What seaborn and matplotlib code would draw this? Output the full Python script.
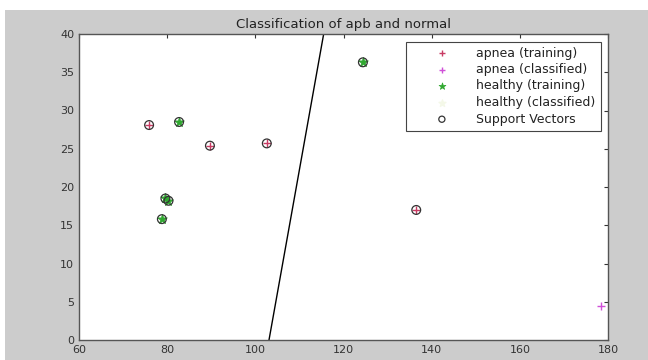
import matplotlib
matplotlib.use("Agg")
import matplotlib.pyplot as plt
import seaborn as sns
import pandas as pd

# values
apnea_train_x = [75.9, 89.7, 102.6, 136.5]
apnea_train_y = [28.1, 25.4, 25.7, 17.0]
healthy_train_x = [82.7, 79.6, 80.3, 78.8, 124.4]
healthy_train_y = [28.5, 18.5, 18.2, 15.8, 36.3]
apnea_class_x = [178.4]
apnea_class_y = [4.4]
boundary_x = [103.1, 115.5]
boundary_y = [0, 40]

sns.set_style("white")
plt.rcParams['font.family'] = ['DejaVu Sans']

fig = plt.figure(figsize=(6.48, 3.6), dpi=100, facecolor='white')
fig.patches.append(plt.Rectangle((5 / 648, 0), 1, 350 / 360, transform=fig.transFigure,
                                 facecolor='#cccccc', edgecolor='none', zorder=-10))
ax = fig.add_axes([79 / 648, 20 / 360, 529 / 648, 306 / 360])
ax.set_facecolor('white')

apnea = pd.DataFrame({'x': apnea_train_x, 'y': apnea_train_y})
healthy = pd.DataFrame({'x': healthy_train_x, 'y': healthy_train_y})
classified = pd.DataFrame({'x': apnea_class_x, 'y': apnea_class_y})
sv = pd.concat([apnea, healthy], ignore_index=True)

sns.scatterplot(data=apnea, x='x', y='y', marker='+', color='#c83c64', s=35,
                linewidth=1, ax=ax, label='apnea (training)', zorder=3)
sns.scatterplot(data=classified, x='x', y='y', marker='+', color='#d050d8', s=35,
                linewidth=1, ax=ax, label='apnea (classified)', zorder=3)
sns.scatterplot(data=healthy, x='x', y='y', marker='*', color='#30a830', s=55,
                linewidth=0.5, edgecolor='#30a830', ax=ax, label='healthy (training)', zorder=3)
ax.scatter([], [], marker='*', color='#f4f8e8', s=55, label='healthy (classified)')
sns.scatterplot(data=sv, x='x', y='y', marker='o', facecolor='none', edgecolor='#333333',
                s=40, linewidth=0.9, ax=ax, label='Support Vectors', zorder=4)
sns.lineplot(x=boundary_x, y=boundary_y, color='black', linewidth=1, ax=ax, zorder=2)

ax.set_xlim(60, 180)
ax.set_ylim(0, 40)
ax.set_xticks(range(60, 181, 20))
ax.set_yticks(range(0, 41, 5))
ax.set_xlabel('')
ax.set_ylabel('')
ax.tick_params(direction='in', top=True, right=True, length=3, labelsize=8,
               colors='#333333', width=0.8)
for sp in ax.spines.values():
    sp.set_color('#555555')
    sp.set_linewidth(1)
ax.set_title('Classification of apb and normal', fontsize=9.5, color='#222222', pad=4)

leg = ax.legend(loc='upper right', fontsize=9, frameon=True, fancybox=False,
                edgecolor='#444444', framealpha=1, borderpad=0.4, labelspacing=0.28,
                handletextpad=0.25, borderaxespad=0.6, markerscale=0.7, handlelength=5.0)
leg.get_frame().set_linewidth(0.8)
for t in leg.get_texts():
    t.set_color('#222222')

fig.savefig('out.png', dpi=100, facecolor=fig.get_facecolor())
